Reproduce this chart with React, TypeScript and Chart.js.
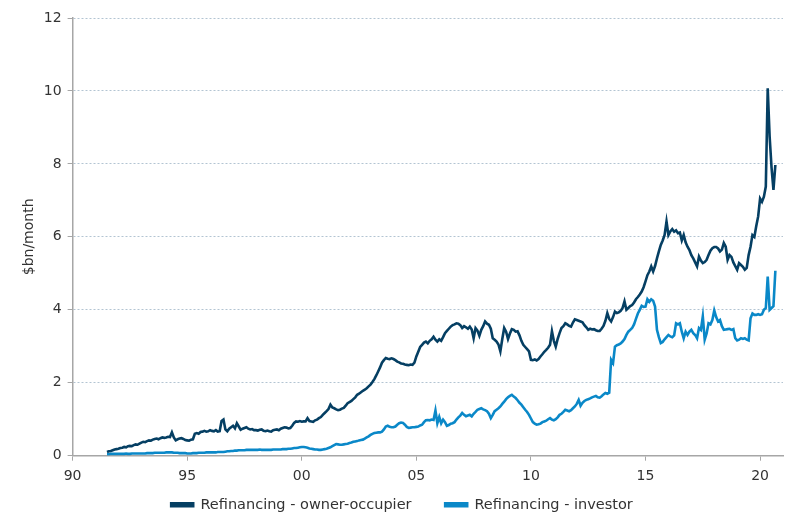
import React, { useEffect, useRef } from "react";
import { Chart, registerables } from "chart.js";

Chart.register(...registerables);

// Monthly series, starting July 1991
const START_YEAR = 1991;
const START_MONTH = 7;

const ownerOccupier: number[] = [
  // 1991 Jul-Dec
  0.10, 0.12, 0.13, 0.15, 0.17, 0.18,
  // 1992
  0.19, 0.21, 0.22, 0.24, 0.23, 0.26, 0.27, 0.26, 0.29, 0.31, 0.30, 0.33,
  // 1993
  0.36, 0.38, 0.37, 0.40, 0.42, 0.41, 0.44, 0.46, 0.47, 0.45, 0.48, 0.50,
  // 1994
  0.49, 0.50, 0.52, 0.51, 0.64, 0.50, 0.42, 0.45, 0.47, 0.48, 0.46, 0.43,
  // 1995
  0.42, 0.41, 0.44, 0.45, 0.60, 0.62, 0.60, 0.65, 0.66, 0.68, 0.66, 0.67,
  // 1996
  0.70, 0.68, 0.67, 0.70, 0.66, 0.67, 0.95, 0.99, 0.72, 0.67, 0.74, 0.78,
  // 1997
  0.82, 0.75, 0.89, 0.80, 0.71, 0.74, 0.76, 0.78, 0.74, 0.72, 0.73, 0.70,
  // 1998
  0.70, 0.69, 0.71, 0.72, 0.68, 0.67, 0.69, 0.67, 0.66, 0.70, 0.71, 0.72,
  // 1999
  0.70, 0.74, 0.76, 0.78, 0.77, 0.75, 0.76, 0.82, 0.90, 0.94, 0.93, 0.95,
  // 2000
  0.93, 0.94, 0.94, 1.03, 0.95, 0.94, 0.93, 0.97, 0.99, 1.03, 1.06, 1.12,
  // 2001
  1.17, 1.22, 1.28, 1.40, 1.32, 1.30, 1.27, 1.25, 1.26, 1.29, 1.31, 1.37,
  // 2002
  1.44, 1.47, 1.50, 1.55, 1.60, 1.67, 1.70, 1.74, 1.78, 1.81, 1.85, 1.90,
  // 2003
  1.95, 2.02, 2.10, 2.20, 2.31, 2.42, 2.55, 2.62, 2.68, 2.66, 2.65, 2.67,
  // 2004
  2.65, 2.62, 2.58, 2.56, 2.53, 2.52, 2.50, 2.49, 2.48, 2.50, 2.49, 2.55,
  // 2005
  2.72, 2.85, 2.98, 3.04, 3.10, 3.13, 3.08, 3.15, 3.19, 3.26, 3.18, 3.13,
  // 2006
  3.19, 3.15, 3.25, 3.36, 3.42, 3.48, 3.54, 3.58, 3.60, 3.63, 3.62, 3.58,
  // 2007
  3.50, 3.55, 3.52, 3.48, 3.54, 3.46, 3.22, 3.50, 3.43, 3.29, 3.45, 3.55,
  // 2008
  3.68, 3.62, 3.59, 3.48, 3.22, 3.18, 3.13, 3.05, 2.86, 3.20, 3.50, 3.40,
  // 2009
  3.20, 3.35, 3.47, 3.45, 3.40, 3.41, 3.30, 3.15, 3.04, 2.98, 2.92, 2.86,
  // 2010
  2.63, 2.62, 2.64, 2.61, 2.65, 2.72, 2.78, 2.85, 2.90, 2.96, 3.04, 3.41,
  // 2011
  3.15, 2.99, 3.20, 3.36, 3.50, 3.55, 3.63, 3.60, 3.56, 3.54, 3.65, 3.74,
  // 2012
  3.72, 3.70, 3.68, 3.66, 3.58, 3.52, 3.45, 3.48, 3.46, 3.47, 3.44, 3.42,
  // 2013
  3.42, 3.48, 3.56, 3.70, 3.91, 3.75, 3.68, 3.80, 3.95, 3.91, 3.93, 3.97,
  // 2014
  4.05, 4.23, 4.00, 4.05, 4.10, 4.13, 4.20, 4.29, 4.35, 4.42, 4.50, 4.62,
  // 2015
  4.78, 4.95, 5.05, 5.19, 5.05, 5.20, 5.41, 5.60, 5.78, 5.90, 6.05, 6.42,
  // 2016
  6.05, 6.15, 6.21, 6.14, 6.18, 6.10, 6.12, 5.90, 6.05, 5.85, 5.73, 5.64,
  // 2017
  5.50, 5.41, 5.30, 5.19, 5.46, 5.35, 5.28, 5.31, 5.37, 5.50, 5.62, 5.69,
  // 2018
  5.72, 5.72, 5.68, 5.60, 5.65, 5.83, 5.73, 5.37, 5.50, 5.45, 5.30, 5.20,
  // 2019
  5.10, 5.28, 5.23, 5.18, 5.10, 5.15, 5.50, 5.73, 6.05, 6.00, 6.30, 6.56,
  // 2020 Jan-Sep
  7.05, 6.96, 7.10, 7.38, 10.07, 8.75, 7.90, 7.29, 7.97,
];

const investor: number[] = [
  // 1991 Jul-Dec
  0.04, 0.04, 0.05, 0.05, 0.05, 0.05,
  // 1992
  0.05, 0.05, 0.05, 0.05, 0.06, 0.05, 0.05, 0.06, 0.06, 0.06, 0.06, 0.06,
  // 1993
  0.06, 0.06, 0.06, 0.07, 0.07, 0.07, 0.07, 0.08, 0.08, 0.08, 0.08, 0.08,
  // 1994
  0.08, 0.09, 0.09, 0.09, 0.09, 0.08, 0.08, 0.08, 0.07, 0.07, 0.07, 0.07,
  // 1995
  0.06, 0.06, 0.06, 0.07, 0.07, 0.07, 0.08, 0.08, 0.08, 0.08, 0.09, 0.09,
  // 1996
  0.09, 0.09, 0.09, 0.09, 0.10, 0.10, 0.10, 0.10, 0.11, 0.12, 0.12, 0.13,
  // 1997
  0.13, 0.14, 0.14, 0.15, 0.15, 0.15, 0.15, 0.16, 0.16, 0.16, 0.16, 0.16,
  // 1998
  0.16, 0.16, 0.17, 0.16, 0.16, 0.16, 0.16, 0.16, 0.16, 0.17, 0.17, 0.17,
  // 1999
  0.17, 0.17, 0.18, 0.18, 0.18, 0.19, 0.19, 0.20, 0.21, 0.21, 0.22, 0.23,
  // 2000
  0.24, 0.24, 0.23, 0.22, 0.20, 0.19, 0.18, 0.17, 0.17, 0.16, 0.16, 0.17,
  // 2001
  0.18, 0.19, 0.21, 0.23, 0.26, 0.29, 0.32, 0.31, 0.30, 0.30, 0.31, 0.32,
  // 2002
  0.33, 0.35, 0.36, 0.38, 0.39, 0.40, 0.42, 0.43, 0.44, 0.47, 0.50, 0.53,
  // 2003
  0.57, 0.60, 0.62, 0.63, 0.64, 0.64, 0.66, 0.72, 0.80, 0.82, 0.79, 0.78,
  // 2004
  0.78, 0.80, 0.85, 0.89, 0.91, 0.90, 0.85, 0.79, 0.76, 0.77, 0.78, 0.78,
  // 2005
  0.79, 0.80, 0.83, 0.85, 0.92, 0.97, 0.98, 0.97, 0.99, 0.98, 1.24, 0.89,
  // 2006
  1.06, 0.89, 0.99, 0.92, 0.82, 0.84, 0.88, 0.89, 0.92, 0.99, 1.05, 1.10,
  // 2007
  1.17, 1.12, 1.08, 1.10, 1.12, 1.08, 1.15, 1.20, 1.26, 1.28, 1.30, 1.27,
  // 2008
  1.25, 1.22, 1.15, 1.03, 1.12, 1.22, 1.26, 1.30, 1.35, 1.42, 1.48, 1.55,
  // 2009
  1.60, 1.64, 1.67, 1.62, 1.58, 1.52, 1.45, 1.40, 1.33, 1.26, 1.20, 1.12,
  // 2010
  1.02, 0.92, 0.88, 0.85, 0.86, 0.88, 0.92, 0.94, 0.96, 1.00, 1.03, 0.99,
  // 2011
  0.97, 1.00, 1.05, 1.12, 1.15, 1.20, 1.26, 1.24, 1.22, 1.25, 1.30, 1.35,
  // 2012
  1.42, 1.53, 1.37, 1.45, 1.50, 1.53, 1.55, 1.57, 1.60, 1.62, 1.64, 1.60,
  // 2013
  1.59, 1.63, 1.68, 1.72, 1.70, 1.73, 2.63, 2.54, 2.99, 3.03, 3.05, 3.08,
  // 2014
  3.13, 3.20, 3.31, 3.40, 3.45, 3.50, 3.60, 3.75, 3.90, 4.00, 4.11, 4.08,
  // 2015
  4.09, 4.29, 4.22, 4.29, 4.25, 4.09, 3.45, 3.25, 3.09, 3.12, 3.19, 3.25,
  // 2016
  3.31, 3.27, 3.25, 3.30, 3.63, 3.60, 3.63, 3.40, 3.22, 3.40, 3.31, 3.40,
  // 2017
  3.45, 3.36, 3.31, 3.22, 3.50, 3.45, 3.82, 3.18, 3.35, 3.63, 3.60, 3.72,
  // 2018
  3.98, 3.80, 3.68, 3.72, 3.55, 3.45, 3.46, 3.47, 3.48, 3.45, 3.47, 3.22,
  // 2019
  3.16, 3.18, 3.22, 3.20, 3.22, 3.18, 3.16, 3.77, 3.90, 3.86, 3.86, 3.88,
  // 2020 Jan-Sep
  3.86, 3.88, 4.00, 4.05, 4.91, 4.00, 4.05, 4.10, 5.07,
];

const xTickYears = [1990, 1995, 2000, 2005, 2010, 2015, 2020];
const X_MIN = 1990;
const X_MAX = 2021;
const Y_MIN = 0;
const Y_MAX = 12;
const Y_STEP = 2;

const seriesNames = ["Refinancing - owner-occupier", "Refinancing - investor"];
const seriesColors = ["#053f63", "#0a88c8"];

const toPoints = (vals: number[]) =>
  vals.map((v, i) => ({ x: START_YEAR + (START_MONTH - 1 + i) / 12, y: v }));

export default function App() {
  const canvasRef = useRef<HTMLCanvasElement | null>(null);

  useEffect(() => {
    document.body.style.margin = "0";
    const canvas = canvasRef.current;
    if (!canvas) return;
    const font = "'DejaVu Sans', Verdana, sans-serif";
    const chart = new Chart(canvas, {
      type: "line",
      data: {
        datasets: [ownerOccupier, investor].map((vals, k) => ({
          label: seriesNames[k],
          data: toPoints(vals),
          borderColor: seriesColors[k],
          backgroundColor: seriesColors[k],
          borderWidth: 2.6,
          pointRadius: 0,
          tension: 0,
          fill: false,
        })),
      },
      options: {
        animation: false,
        responsive: false,
        maintainAspectRatio: false,
        layout: { padding: { top: 18, right: 5, left: 21, bottom: -8 } },
        plugins: {
          tooltip: { enabled: false },
          legend: {
            position: "bottom",
            labels: {
              color: "#333333",
              font: { family: font, size: 14.5 },
              boxWidth: 22,
              boxHeight: 3,
              padding: 6,
              generateLabels: (c: any) => {
                const items = Chart.defaults.plugins.legend.labels.generateLabels(c);
                return items.map((it: any, i: number) =>
                  i < items.length - 1 ? { ...it, text: it.text + "      " } : it
                );
              },
            },
          },
        },
        scales: {
          x: {
            type: "linear",
            min: X_MIN,
            max: X_MAX,
            afterBuildTicks: (axis: any) => {
              axis.ticks = xTickYears.map((v) => ({ value: v }));
            },
            ticks: {
              color: "#333333",
              font: { family: font, size: 14 },
              padding: 7,
              maxRotation: 0,
              autoSkip: false,
              callback: (v: any) => String(Number(v) % 100).padStart(2, "0"),
            },
            grid: {
              drawOnChartArea: false,
              drawTicks: true,
              tickLength: 5,
              color: "#a6a6a6",
            },
            border: { color: "#a6a6a6", width: 1.5 },
          },
          y: {
            min: Y_MIN,
            max: Y_MAX,
            ticks: {
              stepSize: Y_STEP,
              color: "#333333",
              font: { family: font, size: 14 },
              padding: 6,
            },
            title: {
              display: true,
              text: "$bn/month",
              color: "#333333",
              font: { family: font, size: 14 },
              padding: { top: 0, bottom: 0 },
            },
            grid: {
              color: "#b3c4d2",
              tickBorderDash: [],
              tickColor: "#a6a6a6",
              tickLength: 5,
              lineWidth: 1,
            },
            border: { color: "#a6a6a6", width: 1.5, dash: [2, 2] },
          },
        },
      },
    } as any);
    return () => chart.destroy();
  }, []);

  return (
    <div style={{ width: 788, height: 514 }}>
      <canvas ref={canvasRef} width={788} height={514} style={{ display: "block" }} />
    </div>
  );
}
